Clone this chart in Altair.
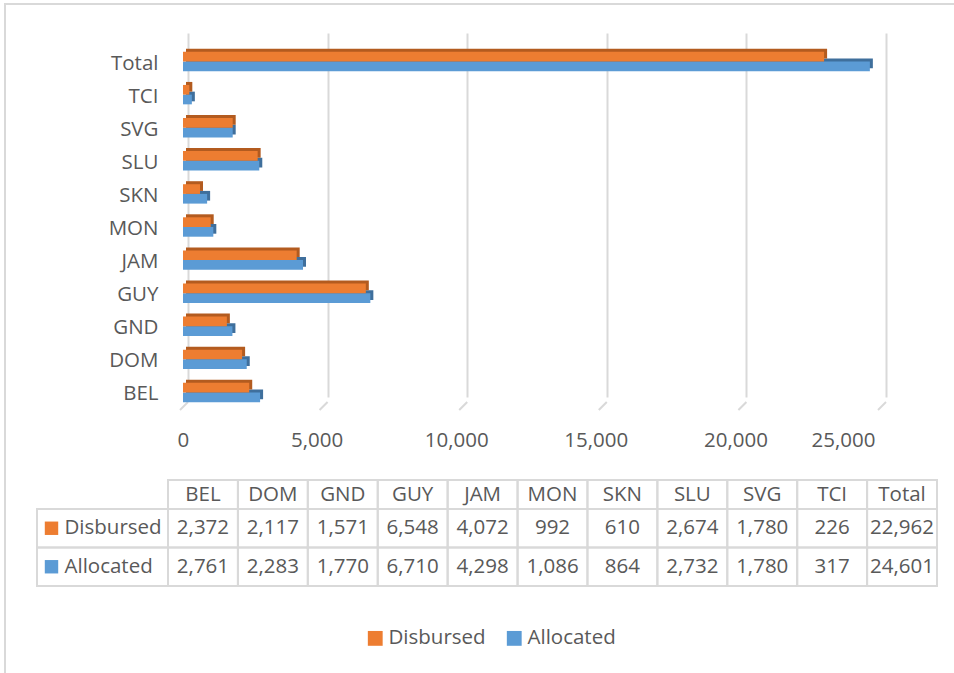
import altair as alt
import pandas as pd

# ---------------- data ----------------
categories = ["BEL", "DOM", "GND", "GUY", "JAM", "MON", "SKN", "SLU", "SVG", "TCI", "Total"]
disbursed = [2372, 2117, 1571, 6548, 4072, 992, 610, 2674, 1780, 226, 22962]
allocated = [2761, 2283, 1770, 6710, 4298, 1086, 864, 2732, 1780, 317, 24601]
series = ["Disbursed", "Allocated"]
x_ticks = [0, 5000, 10000, 15000, 20000, 25000]

# ---------------- styles ----------------
ORANGE = "#ED7D31"
BLUE = "#5B9BD5"
DARK_OR = "#B35B1F"
DARK_BL = "#3F6F9C"
GRID = "#D9D9D9"
TEXT = "#595959"
FONT = "Open Sans"
FS = 20.5

rows = []
for c, d, a in zip(categories, disbursed, allocated):
    rows.append({"cat": c, "series": "Disbursed", "value": d})
    rows.append({"cat": c, "series": "Allocated", "value": a})
df = pd.DataFrame(rows)
hdr_df = pd.DataFrame({"cat": categories, "row": ["hdr"] * len(categories)})
lbl_df = pd.DataFrame({"series": series, "col": ["lbl"] * len(series)})
tick_df = pd.DataFrame({"tick": x_ticks})

W, H = 698, 362
LEFT, TOP = 183, 40
BAR = 9.7

y_order = categories[::-1]
xscale = alt.Scale(domain=[0, 25000], nice=False, zero=True)
yscale = alt.Scale(domain=y_order, range=[5, 369], paddingInner=0, paddingOuter=0)
cscale = alt.Scale(domain=series, range=[ORANGE, BLUE])

x_axis = alt.Axis(values=x_ticks, labelExpr="format(datum.value, ',')", grid=True,
                  gridColor=GRID, gridWidth=2,
                  tickOffset=5, labelOffset=-11, labelPadding=28, ticks=False, domain=False,
                  labelFontSize=FS, labelColor=TEXT, labelFont=FONT, title=None)
y_axis = alt.Axis(labelFontSize=FS, labelColor=TEXT, labelFont=FONT, ticks=False, domain=False,
                  grid=False, labelPadding=25, labelOffset=2, title=None)

frame = alt.Chart(tick_df).mark_rect(fillOpacity=0, stroke=GRID, strokeWidth=1.5).encode(
    x=alt.value(5 - LEFT), x2=alt.value(W + 120), y=alt.value(4 - TOP), y2=alt.value(H + 320)
)

floor = alt.Chart(tick_df).mark_rule(color=GRID, strokeWidth=2, xOffset=5, x2Offset=-3).encode(
    x=alt.X("tick:Q", scale=xscale, axis=x_axis),
    x2="tick:Q",
    y=alt.value(H),
    y2=alt.value(H + 8),
)


def bars(ser, yoff, dark, color):
    base = alt.Chart(df).transform_filter(alt.datum.series == ser)
    if dark:
        return base.mark_bar(size=BAR, yOffset=yoff - 3, xOffset=3, x2Offset=3, color=color).encode(
            x=alt.X("value:Q", scale=xscale, axis=x_axis),
            y=alt.Y("cat:N", scale=yscale, axis=y_axis),
        )
    return base.mark_bar(size=BAR, yOffset=yoff).encode(
        x=alt.X("value:Q", scale=xscale, axis=x_axis),
        y=alt.Y("cat:N", scale=yscale, axis=y_axis),
        color=alt.Color("series:N", scale=cscale,
                        legend=alt.Legend(orient="none", legendX=182, legendY=588,
                                          direction="horizontal", title=None, symbolType="square",
                                          symbolSize=220, symbolStrokeWidth=0, labelFontSize=FS,
                                          labelFont=FONT, labelColor=TEXT, labelOffset=3,
                                          columnPadding=18, padding=0)),
    )


main = alt.layer(
    frame,
    floor,
    bars("Allocated", BAR / 2, True, DARK_BL),
    bars("Disbursed", -BAR / 2, True, DARK_OR),
    bars("Allocated", BAR / 2, False, None),
    bars("Disbursed", -BAR / 2, False, None),
)

# ---------------- data table ----------------
tx = alt.Scale(domain=categories, range=[168 - LEFT, 937 - LEFT], paddingInner=0, paddingOuter=0)
ty_hdr = alt.Scale(domain=["hdr"], range=[480 - TOP, 509 - TOP], paddingInner=0, paddingOuter=0)
ty_rows = alt.Scale(domain=series, range=[509 - TOP, 586 - TOP], paddingInner=0, paddingOuter=0)
lx = alt.Scale(domain=["lbl"], range=[37 - LEFT, 168 - LEFT], paddingInner=0, paddingOuter=0)

cell = dict(fillOpacity=0, stroke=GRID, strokeWidth=2)
txt = dict(font=FONT, fontSize=FS, color=TEXT, baseline="middle")

header = alt.layer(
    alt.Chart(hdr_df).mark_rect(**cell).encode(
        x=alt.X("cat:N", scale=tx, axis=None), y=alt.Y("row:N", scale=ty_hdr, axis=None)),
    alt.Chart(hdr_df).mark_text(**txt).encode(
        x=alt.X("cat:N", scale=tx, axis=None), y=alt.Y("row:N", scale=ty_hdr, axis=None),
        text="cat:N"),
)

body = alt.layer(
    alt.Chart(df).mark_rect(**cell).encode(
        x=alt.X("cat:N", scale=tx, axis=None), y=alt.Y("series:N", scale=ty_rows, axis=None)),
    alt.Chart(df).mark_text(**txt).encode(
        x=alt.X("cat:N", scale=tx, axis=None), y=alt.Y("series:N", scale=ty_rows, axis=None),
        text=alt.Text("value:Q", format=",")),
)

labels = alt.layer(
    alt.Chart(lbl_df).mark_rect(**cell).encode(
        x=alt.X("col:N", scale=lx, axis=None), y=alt.Y("series:N", scale=ty_rows, axis=None)),
    alt.Chart(lbl_df).mark_square(size=180, xOffset=-51, opacity=1).encode(
        x=alt.X("col:N", scale=lx, axis=None), y=alt.Y("series:N", scale=ty_rows, axis=None),
        fill=alt.Fill("series:N", scale=cscale, legend=None)),
    alt.Chart(lbl_df).mark_text(align="left", dx=-38, **txt).encode(
        x=alt.X("col:N", scale=lx, axis=None), y=alt.Y("series:N", scale=ty_rows, axis=None),
        text="series:N"),
)

chart = alt.layer(main, header, body, labels).resolve_scale(
    x="independent", y="independent"
).properties(
    width=W, height=H,
    autosize=alt.AutoSizeParams(type="none"),
    padding={"left": LEFT, "top": TOP, "right": 954 - LEFT - W, "bottom": 673 - TOP - H},
    background="white",
).configure_view(strokeWidth=0)

chart.save("out.html", embed_options={"renderer": "svg", "actions": False})
